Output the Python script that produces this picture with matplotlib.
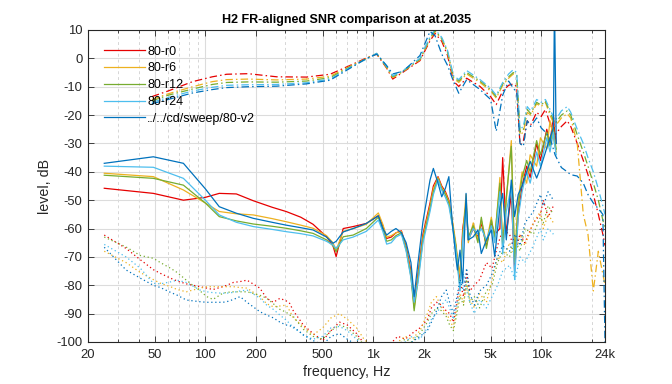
import matplotlib
matplotlib.use("Agg")
import matplotlib.pyplot as plt
from matplotlib.lines import Line2D
from matplotlib.ticker import FixedLocator, NullFormatter

plt.rcParams['font.family'] = ['Liberation Sans', 'DejaVu Sans']

TITLE = "H2 FR-aligned SNR comparison at at.2035"
LABELS = ["80-r0", "80-r6", "80-r12", "80-r24", "../../cd/sweep/80-v2"]
COLORS = ["#e60000", "#edb120", "#77ac30", "#4dbeee", "#0072bd"]

XTICKS = [20, 50, 100, 200, 500, 1000, 2000, 5000, 10000, 24000]
XTICKLABELS = ["20", "50", "100", "200", "500", "1k", "2k", "5k", "10k", "24k"]
YTICKS = [10, 0, -10, -20, -30, -40, -50, -60, -70, -80, -90, -100]

# ---- frequency response (dash-dot) ----
FD_FREQ = [48, 60, 84, 110, 134, 180, 266, 400, 553, 727, 900, 1048, 1200, 1306, 1510,
           1897, 2178, 2333, 2558, 2770, 3000, 3230, 3600, 4325, 5000, 5400, 5900, 6400,
           6824, 7150, 7480, 7834, 8260, 8660, 9400, 10000, 10600, 11290, 12100, 13200,
           14300, 15000, 16400, 17820, 19000, 20450, 21900, 23300, 24000]
FD_R0 = [-13.5, -11.5, -8.2, -6.5, -5.6, -5.4, -6.5, -6.6, -5.6, -2.5, 0.0, 1.5, -3.4, -7.3, -4.8,
         -0.8, 6.2, 8.8, 6.0, 1.0, -8.0, -9.9, -7.0, -9.9, -13.5, -16.3, -11.5, -9.5,
         -9.0, -10.0, -30.5, -29.0, -22.0, -23.5, -19.0, -20.5, -18.0, -23.0, -27.0, -24.0,
         -22.0, -24.0, -30.0, -36.0, -41.0, -48.0, -55.0, -62.0, -66.0]
FD_R6 = [-14.5, -12.5, -10.0, -8.2, -7.5, -7.3, -7.6, -7.3, -6.3, -2.8, -0.2, 1.6, -3.2, -6.8, -4.6,
         -0.5, 6.8, 9.5, 6.8, 2.0, -7.0, -8.5, -5.5, -8.5, -11.5, -14.0, -9.5, -7.0,
         -5.5, -6.5, -27.0, -26.0, -19.0, -20.0, -16.0, -17.0, -15.5, -20.0, -24.0, -21.0,
         -19.5, -21.0, -30.0, -55.0, -62.0, -82.0, -68.0, -76.0, -80.0]
FD_R12 = [-15.0, -13.0, -10.8, -9.2, -8.5, -8.3, -8.4, -8.0, -6.8, -3.0, -0.3, 1.7, -3.0, -6.5, -4.4,
          -0.3, 7.2, 9.8, 7.0, 2.3, -6.5, -8.0, -5.0, -8.0, -11.0, -13.5, -9.0, -6.5,
          -5.0, -6.0, -26.0, -25.0, -18.0, -19.5, -15.5, -16.5, -15.0, -19.0, -23.0, -20.0,
          -18.5, -20.0, -27.0, -33.0, -38.0, -44.0, -50.0, -57.0, -60.0]
FD_R24 = [-15.5, -13.8, -11.5, -10.2, -9.5, -9.3, -9.2, -8.6, -7.3, -3.2, -0.4, 1.8, -2.8, -6.2, -4.2,
          0.0, 7.6, 10.2, 7.4, 2.8, -6.0, -7.5, -4.3, -7.5, -10.5, -13.0, -8.5, -5.5,
          -4.0, -5.0, -25.0, -24.0, -17.0, -18.5, -14.5, -15.5, -14.5, -18.0, -22.0, -18.5,
          -17.0, -19.0, -25.0, -30.0, -35.0, -40.0, -46.0, -52.0, -55.0]
FD_V2 = [-16.0, -14.5, -12.2, -11.0, -10.3, -10.0, -9.8, -9.0, -7.7, -3.5, -0.2, 1.5, -2.5, -5.5, -4.5,
         1.0, 9.5, 8.0, 1.5, -2.5, -8.0, -12.3, -7.5, -11.0, -14.5, -25.7, -13.0, -8.0,
         -10.5, -12.0, -30.0, -31.0, -22.0, -24.0, -21.0, -24.5, -26.0, -28.0, -34.0, -38.5,
         -40.0, -41.0, -41.5, -44.0, -48.0, -51.0, -53.0, -55.0, -100.0]

# ---- SNR (solid) ----
SN_FREQ = [25, 49, 74, 100, 121, 153, 193, 250, 303, 370, 438, 527, 575, 601, 662,
           759, 909, 1072, 1140, 1202, 1280, 1365, 1471, 1570, 1677, 1752, 1847, 1977, 2178, 2280,
           2431, 2558, 2690, 2820, 2960, 3100, 3170, 3287, 3410, 3570, 3680, 3940, 4200, 4400, 4720,
           5050, 5290, 5680, 5900, 6200, 6640, 6950, 7300, 7700, 8200, 8600, 9400, 9900, 10800, 11290,
           11830, 12000, 12300]
SN_R0 = [-45.8, -47.6, -50.0, -49.0, -47.6, -47.8, -50.2, -52.5, -54.0, -56.0, -58.5, -62.9, -66.0, -69.9, -60.0,
         -59.3, -58.2, -55.5, -59.0, -63.5, -63.0, -61.5, -60.8, -66.4, -75.0, -87.0, -76.0, -62.0, -51.0, -45.0,
         -41.7, -45.0, -47.0, -50.0, -58.0, -66.0, -71.0, -80.0, -60.0, -52.0, -64.0, -60.0, -63.0, -58.0, -66.0,
         -58.0, -62.0, -60.0, -35.0, -62.0, -48.0, -75.0, -55.0, -45.0, -38.0, -42.0, -30.0, -36.0, -25.0, -30.0,
         -20.0, -25.0, -30.0]
SN_R6 = [-40.5, -41.7, -46.4, -51.0, -54.0, -54.8, -55.2, -56.5, -57.6, -58.8, -59.9, -62.5, -65.0, -67.6, -61.0,
         -60.0, -58.5, -54.5, -58.5, -63.0, -62.5, -61.5, -61.0, -67.0, -76.0, -88.0, -77.0, -63.0, -52.0, -46.0,
         -42.0, -45.5, -47.5, -50.5, -57.0, -65.0, -70.0, -76.0, -62.0, -48.0, -65.0, -58.0, -64.0, -57.0, -65.0,
         -56.0, -64.0, -42.0, -66.0, -50.0, -29.0, -70.0, -50.0, -40.0, -44.0, -34.0, -38.0, -28.0, -32.0, -22.0,
         -28.0, -30.0, -33.0]
SN_R12 = [-41.2, -42.3, -44.7, -51.0, -55.8, -57.3, -58.4, -59.2, -59.9, -60.8, -61.7, -64.0, -66.0, -68.2, -62.9,
          -62.3, -60.0, -56.0, -60.0, -64.5, -64.0, -62.5, -61.5, -67.5, -77.0, -89.0, -78.0, -64.0, -53.0, -47.0,
          -42.5, -46.0, -48.0, -51.0, -58.5, -66.0, -72.0, -81.0, -63.0, -51.0, -63.0, -59.0, -65.0, -56.0, -67.0,
          -57.0, -63.0, -44.0, -67.0, -49.0, -31.0, -72.0, -52.0, -42.0, -36.0, -40.0, -29.0, -34.0, -26.0, -31.0,
          -24.0, -28.0, -32.0]
SN_R24 = [-38.0, -38.4, -42.3, -50.0, -55.2, -57.8, -59.3, -60.3, -61.1, -61.8, -62.6, -64.5, -65.8, -67.0, -64.0,
          -63.0, -61.0, -57.0, -61.0, -65.5, -65.0, -63.0, -62.0, -68.0, -77.5, -86.0, -79.0, -65.0, -54.0, -48.0,
          -42.8, -46.5, -49.0, -52.0, -59.0, -67.0, -73.0, -82.0, -64.0, -53.0, -64.0, -60.0, -62.0, -60.0, -64.0,
          -59.0, -65.0, -47.0, -69.0, -54.0, -45.0, -78.0, -56.0, -47.0, -40.0, -44.0, -33.0, -38.0, -28.0, -33.0,
          -26.0, -30.0, -34.0]
SN_V2 = [-37.0, -34.7, -37.0, -46.0, -52.3, -54.6, -56.4, -57.8, -58.8, -59.7, -60.5, -63.0, -65.2, -64.5, -61.2,
         -60.0, -58.2, -55.5, -60.0, -62.3, -61.0, -60.0, -61.5, -65.0, -72.0, -84.0, -72.0, -57.6, -42.9, -38.8,
         -44.0, -48.8, -45.8, -41.7, -58.2, -70.0, -74.6, -67.6, -79.3, -47.6, -64.0, -62.9, -60.5, -68.8, -64.0,
         -60.5, -69.9, -52.3, -47.6, -64.0, -42.9, -55.8, -48.0, -45.0, -40.0, -36.3, -42.2, -38.7, -31.6, -28.0,
         -24.5, 20.0, -30.0]

# ---- noise (dotted) ----
NO_FREQ = [25, 33.7, 41, 49, 54, 62, 68, 77, 93, 102, 111, 127, 134, 147, 161, 177, 211, 232, 254, 278,
           303, 318, 334, 366, 383, 438, 500, 560, 630, 700, 795, 880, 1000, 1200, 1400, 1550, 1700, 1900,
           2100, 2220, 2380, 2550, 2720, 2850, 3000, 3150, 3290, 3450, 3600, 3760, 4000, 4300, 4720, 5100,
           5500, 5900, 6480, 7000, 7480, 8000, 8980, 9900, 10300, 11000, 11830]
NO_R0 = [-62.3, -67.0, -71.0, -74.5, -75.8, -77.5, -78.5, -79.5, -80.5, -81.0, -81.5, -80.5, -80.0, -79.0, -78.7,
         -78.2, -81.0, -84.6, -86.0, -84.6, -85.5, -86.4, -89.0, -92.3, -94.0, -97.0, -99.5, -96.0, -93.0, -94.0,
         -97.0, -100.5, -103.0, -102.0, -98.0, -99.0, -97.0, -95.0, -92.0, -88.0, -86.0, -87.0, -89.0, -90.0, -93.0,
         -86.0, -79.0, -84.0, -76.0, -82.0, -80.0, -78.0, -72.0, -74.0, -66.0, -60.5, -62.0, -68.0, -62.0, -65.0,
         -58.0, -55.0, -50.0, -56.0, -52.0]
NO_R6 = [-68.0, -72.0, -75.5, -78.0, -79.3, -80.5, -81.5, -82.3, -81.0, -80.5, -80.5, -80.5, -80.5, -80.5, -80.8,
         -81.0, -84.0, -86.5, -87.6, -87.3, -87.0, -89.0, -91.5, -93.5, -94.6, -97.5, -95.0, -91.5, -90.0, -92.0,
         -95.0, -99.0, -102.0, -103.0, -100.0, -98.0, -99.0, -96.0, -90.0, -86.0, -84.0, -88.0, -90.0, -92.0, -95.0,
         -88.0, -83.0, -86.0, -80.0, -85.0, -88.0, -83.0, -86.0, -78.0, -70.0, -72.0, -65.0, -70.0, -62.0, -66.0,
         -58.0, -54.0, -60.0, -55.0, -58.0]
NO_R12 = [-63.0, -66.5, -69.5, -70.5, -72.0, -74.0, -75.5, -78.2, -82.0, -84.0, -85.0, -82.8, -82.5, -82.3, -82.3,
          -82.3, -83.5, -84.6, -86.5, -88.5, -89.5, -90.5, -91.0, -94.0, -95.5, -98.0, -99.0, -96.0, -94.0, -95.0,
          -98.0, -101.0, -104.0, -104.0, -101.0, -99.0, -100.0, -97.0, -93.0, -90.0, -88.0, -89.0, -91.0, -94.0, -96.0,
          -90.0, -84.0, -87.0, -78.0, -86.0, -84.0, -88.0, -82.0, -80.0, -72.0, -68.0, -70.0, -64.0, -68.0, -60.0,
          -62.0, -56.0, -58.0, -52.0, -55.0]
NO_R24 = [-65.6, -70.0, -74.0, -79.3, -79.5, -78.8, -78.2, -79.0, -81.7, -82.3, -82.6, -82.8, -82.8, -82.5, -82.0,
          -81.7, -84.5, -87.0, -88.5, -90.5, -92.3, -93.5, -95.0, -96.5, -97.5, -99.0, -98.0, -95.0, -94.5, -96.0,
          -99.0, -102.0, -104.0, -104.0, -102.0, -100.0, -98.0, -99.0, -95.0, -92.0, -90.0, -87.0, -85.0, -88.0, -92.0,
          -87.0, -81.0, -76.0, -82.0, -86.0, -90.0, -85.0, -88.0, -84.0, -80.0, -75.0, -73.0, -78.0, -70.0, -72.0,
          -66.0, -60.0, -64.0, -60.0, -62.0]
NO_V2 = [-66.6, -74.6, -77.5, -80.0, -80.8, -82.5, -83.5, -85.2, -85.8, -86.0, -86.0, -86.0, -85.8, -85.0, -84.0,
         -86.0, -89.3, -90.5, -91.5, -93.0, -94.0, -94.3, -94.6, -96.5, -97.5, -99.5, -101.0, -98.0, -97.0, -99.0,
         -101.0, -103.0, -104.0, -104.0, -103.0, -101.0, -100.0, -98.0, -96.0, -93.0, -89.0, -84.0, -81.7, -86.0, -90.0,
         -84.0, -78.0, -82.0, -74.0, -83.0, -87.0, -82.0, -80.0, -76.0, -70.0, -66.0, -68.0, -62.0, -66.0, -58.0,
         -54.0, -48.0, -52.0, -47.0, -50.0]

FD_ALL = [FD_R0, FD_R6, FD_R12, FD_R24, FD_V2]
SN_ALL = [SN_R0, SN_R6, SN_R12, SN_R24, SN_V2]
NO_ALL = [NO_R0, NO_R6, NO_R12, NO_R24, NO_V2]

fig = plt.figure(figsize=(6.72, 3.84), dpi=100)
ax = fig.add_axes([88 / 672, 42 / 384, 517 / 672, 312 / 384])

LW = 0.9
for i, c in enumerate(COLORS):
    ax.plot(SN_FREQ, SN_ALL[i], color=c, lw=LW, linestyle='-')
    ax.plot(FD_FREQ, FD_ALL[i], color=c, lw=LW, linestyle=(0, (6, 2.5, 1.2, 2.5)))
    ax.plot(NO_FREQ, NO_ALL[i], color=c, lw=LW, linestyle=(0, (1, 2.2)))

ax.set_xscale('log')
ax.set_xlim(20, 24000)
ax.set_ylim(-100, 10)
ax.xaxis.set_major_locator(FixedLocator(XTICKS))
ax.set_xticklabels(XTICKLABELS)
minor = [m * d for d in (10, 100, 1000, 10000) for m in range(2, 10)]
minor = [v for v in minor if 20 < v < 24000 and v not in XTICKS]
ax.xaxis.set_minor_locator(FixedLocator(minor))
ax.xaxis.set_minor_formatter(NullFormatter())
ax.set_yticks(YTICKS)
ax.set_yticklabels([str(v) for v in YTICKS])

ax.grid(True, which='major', color='#dcdcdc', linewidth=0.8, linestyle='-')
ax.grid(True, which='minor', axis='x', color='#d6d6d6', linewidth=0.7, linestyle=(0, (3, 3)))
ax.set_axisbelow(True)

ax.tick_params(which='both', direction='in', top=True, right=True, labelsize=9.4, colors='#262626',
               width=0.6)
ax.tick_params(which='major', length=4)
ax.tick_params(axis='x', which='major', pad=5)
ax.tick_params(axis='y', which='major', pad=4)
ax.tick_params(which='minor', length=2)
for s in ax.spines.values():
    s.set_color('#262626')
    s.set_linewidth(0.8)

ax.set_xlabel("frequency, Hz", fontsize=10.3, color='#262626', labelpad=3)
ax.set_ylabel("level, dB", fontsize=10.3, color='#262626', labelpad=3)
ax.set_title(TITLE, fontsize=9.0, fontweight='bold', color='black', pad=5)

handles = [Line2D([0], [0], color=c, lw=LW) for c in COLORS]
ax.legend(handles, LABELS, loc='upper left', bbox_to_anchor=(0.0, 1.0), frameon=False,
          fontsize=9.0, handlelength=3.3, handletextpad=0.2, labelspacing=0.38,
          borderaxespad=0.8, borderpad=0.45)

fig.savefig("out.png", dpi=100)
